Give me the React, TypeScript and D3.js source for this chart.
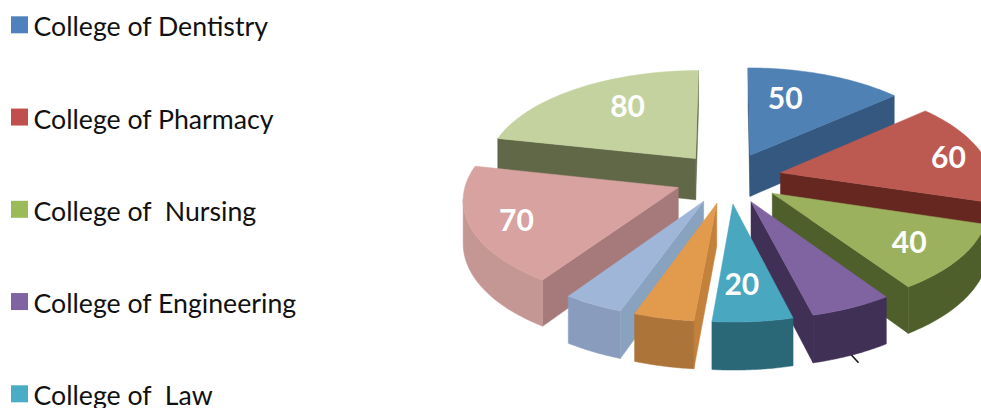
import React from "react";
import * as d3 from "d3";

// Share of each college, clockwise from twelve o'clock
const sliceValues = [50, 60, 40, 20.5, 20, 15, 15, 70, 80];
const labelTexts = ["50", "60", "40", "", "20", "", "", "70", "80"];
const topColors = ["#4f81b5", "#bc5a52", "#9bb15e", "#8064a2", "#4aa7c0", "#e29a4c", "#a0b6d9", "#d8a2a0", "#c4d29f"];
const wallColors = ["#34587f", "#652720", "#4f5f2b", "#413056", "#2a6878", "#c4813c", "#88a2bf", "#a67a7a", "#606848"];
const rimColors = ["#34587f", "#652720", "#4f5f2b", "#413056", "#2a6878", "#ad743a", "#8a9cbe", "#c49694", "#606848"];
const labelAngles = [16.5, 79, 127, 0, 177, 0, 0, 247, 328];
const labelRadii = [0.66, 0.83, 0.75, 0, 0.7, 0, 0, 0.79, 0.67];

const legendLabels = ["College of Dentistry", "College of Pharmacy", "College of  Nursing", "College of Engineering", "College of  Law"];
const legendColors = ["#4f81bd", "#c0504d", "#9bbb59", "#8064a2", "#4bacc6"];

const WIDTH = 981;
const HEIGHT = 408;
const FONT = "Lato, Carlito, sans-serif";

// Camera model for the exploded pie
const CX = 728.5;
const CY = 178;
const RADIUS = 211.5;
const EXPLODE = 53.5;
const TILT = 0.4754;
const PERSPECTIVE = 0.000475;
const THICKNESS = 42;

type Pt = [number, number];

const legendY = d3.scaleLinear().domain([0, 1]).range([25.3, 117.55]);

function project(X: number, Z: number, lift = 0): Pt {
  const k = 1 / (1 + PERSPECTIVE * Z);
  return [CX + X * k, CY - TILT * Z * k + lift * k];
}

const toPath = d3.line<Pt>().x((d) => d[0]).y((d) => d[1]);

type Face = { d: string; fill: string };

function buildSlice(start: number, end: number, i: number) {
  const mid = (start + end) / 2;
  const ex = EXPLODE * Math.sin(mid);
  const ez = EXPLODE * Math.cos(mid);
  const floor = (r: number, a: number, lift = 0) =>
    project(ex + r * Math.sin(a), ez + r * Math.cos(a), lift);

  const sweep = d3.scaleLinear().domain([0, 40]).range([start, end]);
  const angles = d3.range(0, 41).map((k) => sweep(k));
  const rimTop = angles.map((a) => floor(RADIUS, a));
  const apex = floor(0, 0);

  const faces: Face[] = [];
  const wall = (a: Pt, b: Pt, fill: string, aAngle: number, bAngle: number, ra: number, rb: number) => {
    if (b[0] < a[0]) {
      const low = [floor(rb, bAngle, THICKNESS), floor(ra, aAngle, THICKNESS)];
      faces.push({ d: toPath([a, b, ...low])! + "Z", fill });
    }
  };
  wall(apex, rimTop[0], wallColors[i], start, start, 0, RADIUS);
  wall(rimTop[40], apex, wallColors[i], end, end, RADIUS, 0);

  // Only the stretch of rim that turns towards the viewer gets a wall
  const visible = angles.filter((_, k) => k < 40 && rimTop[k + 1][0] < rimTop[k][0]);
  if (visible.length) {
    const last = angles[angles.indexOf(visible[visible.length - 1]) + 1];
    const run = [...visible, last];
    const up = run.map((a) => floor(RADIUS, a));
    const down = run.slice().reverse().map((a) => floor(RADIUS, a, THICKNESS));
    faces.push({ d: toPath([...up, ...down])! + "Z", fill: rimColors[i] });
  }
  const top = toPath([apex, ...rimTop])! + "Z";

  const la = (labelAngles[i] * Math.PI) / 180;
  const labelPos = floor(labelRadii[i] * RADIUS, la);
  return { faces, top, labelPos, floor, mid };
}

const arcs = d3.pie<number>().sort(null).startAngle(0).endAngle(2 * Math.PI)(sliceValues);
const slices = arcs.map((a, i) => ({ ...buildSlice(a.startAngle, a.endAngle, i), i }));

// Painter's order: far slices first, near slices last
const drawOrder = d3.range(slices.length).sort((p, q) => Math.cos(slices[q].mid) - Math.cos(slices[p].mid));

export default function App() {
  const stub = slices[3];
  const stubFrom = stub.floor(RADIUS - 3, stub.mid, THICKNESS);
  const stubTo = stub.floor(RADIUS + 13, stub.mid, THICKNESS);
  return (
    <svg width={WIDTH} height={HEIGHT} viewBox={`0 0 ${WIDTH} ${HEIGHT}`} style={{ position: "absolute", left: 0, top: 0, background: "#fff" }}>
      {legendLabels.map((label, i) => (
        <g key={label}>
          <rect x={11} y={legendY(i) - 9} width={17} height={17} fill={legendColors[i]} />
          <text x={33.5} y={legendY(i) + 11} fontFamily={FONT} fontSize={26.7} fill="#111" style={{ whiteSpace: "pre" }}>
            {label}
          </text>
        </g>
      ))}
      <line x1={stubFrom[0]} y1={stubFrom[1]} x2={stubTo[0]} y2={stubTo[1]} stroke="#111" strokeWidth={1.5} />
      {drawOrder.map((idx) => {
        const s = slices[idx];
        return (
          <g key={idx}>
            {s.faces.map((f, k) => (
              <path key={k} d={f.d} fill={f.fill} stroke={f.fill} strokeWidth={0.5} />
            ))}
            <path d={s.top} fill={topColors[idx]} stroke={topColors[idx]} strokeWidth={0.5} />
          </g>
        );
      })}
      {slices.map((s) =>
        labelTexts[s.i] ? (
          <text key={s.i} x={s.labelPos[0]} y={s.labelPos[1]} dy="0.36em" textAnchor="middle" fontFamily={FONT} fontWeight={700} fontSize={30} fill="#fff">
            {labelTexts[s.i]}
          </text>
        ) : null
      )}
    </svg>
  );
}
